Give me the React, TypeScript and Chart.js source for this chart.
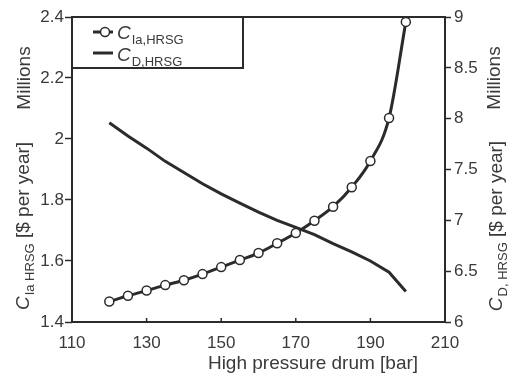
import React, { useEffect, useRef } from "react";
import { Chart, registerables } from "chart.js";

Chart.register(...registerables);

const pressureIa = [120, 125, 130, 135, 140, 145, 150, 155, 160, 165, 170, 175, 180, 185, 190, 195, 199.5];
const costIa = [1.467, 1.486, 1.503, 1.521, 1.537, 1.557, 1.580, 1.603, 1.626, 1.658, 1.692, 1.732, 1.778, 1.842, 1.928, 2.069, 2.384];

const pressureD = [120, 125, 130, 135, 140, 145, 150, 155, 160, 165, 170, 175, 180, 185, 190, 195, 199.5];
const costD = [7.96, 7.83, 7.71, 7.58, 7.47, 7.36, 7.26, 7.17, 7.08, 7.00, 6.93, 6.86, 6.77, 6.69, 6.60, 6.49, 6.30];

const xTicks = [110, 130, 150, 170, 190, 210];
const leftTicks = [1.4, 1.6, 1.8, 2, 2.2, 2.4];
const rightTicks = [6, 6.5, 7, 7.5, 8, 8.5, 9];

const FONT = "'Liberation Sans', Arial, sans-serif";
const INK = "#2b2b2b";
const TXT = "#3a3a3a";

function drawSubText(ctx: CanvasRenderingContext2D, x: number, y: number, main: string, sub: string, rest: string, size: number) {
  ctx.textBaseline = "alphabetic";
  ctx.textAlign = "left";
  ctx.font = `italic ${size}px ${FONT}`;
  ctx.fillText(main, x, y);
  let cx = x + ctx.measureText(main).width + 1;
  const ss = Math.round(size * 0.68);
  ctx.font = `${ss}px ${FONT}`;
  ctx.fillText(sub, cx, y + size * 0.28);
  cx += ctx.measureText(sub).width;
  if (rest) {
    ctx.font = `${size}px ${FONT}`;
    ctx.fillText(rest, cx, y);
    cx += ctx.measureText(rest).width;
  }
  return cx - x;
}

function measureSub(ctx: CanvasRenderingContext2D, main: string, sub: string, rest: string, size: number) {
  ctx.font = `italic ${size}px ${FONT}`;
  let w = ctx.measureText(main).width + 1;
  ctx.font = `${Math.round(size * 0.68)}px ${FONT}`;
  w += ctx.measureText(sub).width;
  ctx.font = `${size}px ${FONT}`;
  w += ctx.measureText(rest).width;
  return w;
}

const decorPlugin = {
  id: "decor",
  afterDraw(chart: any) {
    const ctx: CanvasRenderingContext2D = chart.ctx;
    const a = chart.chartArea;
    ctx.save();
    ctx.strokeStyle = INK;
    ctx.fillStyle = INK;
    ctx.lineWidth = 2;
    ctx.strokeRect(a.left, a.top, a.right - a.left, a.bottom - a.top);

    // inward x ticks
    ctx.lineWidth = 1.5;
    const xs = chart.scales.x;
    xTicks.forEach((v) => {
      const px = xs.getPixelForValue(v);
      ctx.beginPath();
      ctx.moveTo(px, a.bottom);
      ctx.lineTo(px, a.bottom - 4);
      ctx.stroke();
    });

    // legend box
    ctx.lineWidth = 2;
    const lx = a.left, ly = a.top, lw = 171, lh = 51;
    ctx.fillStyle = "#fff";
    ctx.fillRect(lx, ly, lw, lh);
    ctx.strokeRect(lx, ly, lw, lh);
    ctx.fillStyle = INK;
    ctx.lineWidth = 3;
    ctx.beginPath();
    ctx.moveTo(lx + 21, ly + 15);
    ctx.lineTo(lx + 41, ly + 15);
    ctx.stroke();
    ctx.beginPath();
    ctx.arc(lx + 33, ly + 15, 4.5, 0, Math.PI * 2);
    ctx.fillStyle = "#fff";
    ctx.fill();
    ctx.lineWidth = 1.5;
    ctx.stroke();
    ctx.fillStyle = INK;
    ctx.lineWidth = 3;
    ctx.beginPath();
    ctx.moveTo(lx + 21, ly + 36);
    ctx.lineTo(lx + 41, ly + 36);
    ctx.stroke();
    ctx.fillStyle = TXT;
    drawSubText(ctx, lx + 45, ly + 22, "C", "Ia,HRSG", "", 19);
    drawSubText(ctx, lx + 45, ly + 44, "C", "D,HRSG", "", 19);

    // axis titles
    const size = 19;
    ctx.fillStyle = TXT;
    // left
    ctx.save();
    ctx.translate(29, 226);
    ctx.rotate(-Math.PI / 2);
    let w = measureSub(ctx, "C", "Ia HRSG", " [$ per year]", size);
    drawSubText(ctx, -w / 2, 0, "C", "Ia HRSG", " [$ per year]", size);
    ctx.restore();
    ctx.save();
    ctx.translate(30, 78);
    ctx.rotate(-Math.PI / 2);
    ctx.font = `${size}px ${FONT}`;
    ctx.textAlign = "center";
    ctx.fillText("Millions", 0, 0);
    ctx.restore();
    // right
    ctx.save();
    ctx.translate(502, 226);
    ctx.rotate(-Math.PI / 2);
    w = measureSub(ctx, "C", "D, HRSG", " [$ per year]", size);
    drawSubText(ctx, -w / 2, 0, "C", "D, HRSG", " [$ per year]", size);
    ctx.restore();
    ctx.save();
    ctx.translate(500, 78);
    ctx.rotate(-Math.PI / 2);
    ctx.font = `${size}px ${FONT}`;
    ctx.textAlign = "center";
    ctx.fillText("Millions", 0, 0);
    ctx.restore();
    // x title
    ctx.font = `${size}px ${FONT}`;
    ctx.textAlign = "center";
    ctx.textBaseline = "middle";
    ctx.fillText("High pressure drum [bar]", 313, 364);
    ctx.restore();
  },
};

export default function App() {
  const ref = useRef<HTMLCanvasElement | null>(null);
  useEffect(() => {
    document.body.style.margin = "0";
    const canvas = ref.current!;
    const tickFont = { family: FONT, size: 17 };
    const chart = new Chart(canvas, {
      type: "line",
      data: {
        datasets: [
          {
            label: "C Ia,HRSG",
            data: pressureIa.map((x, i) => ({ x, y: costIa[i] })),
            borderColor: INK,
            borderWidth: 3,
            pointRadius: 4.5,
            pointBorderWidth: 1.5,
            pointBackgroundColor: "#fff",
            pointBorderColor: INK,
            yAxisID: "y",
            cubicInterpolationMode: "monotone",
          },
          {
            label: "C D,HRSG",
            data: pressureD.map((x, i) => ({ x, y: costD[i] })),
            borderColor: INK,
            borderWidth: 3,
            pointRadius: 0,
            yAxisID: "y2",
            tension: 0,
          },
        ],
      },
      options: {
        animation: false,
        responsive: false,
        layout: { padding: { top: 17, left: 0, right: 0, bottom: 0 } },
        plugins: { legend: { display: false }, tooltip: { enabled: false } },
        scales: {
          x: {
            type: "linear",
            min: 110,
            max: 210,
            afterBuildTicks: (s: any) => { s.ticks = xTicks.map((v) => ({ value: v })); },
            afterFit: (s: any) => { s.height = 58; },
            grid: { display: false },
            border: { display: false },
            ticks: { font: tickFont, color: TXT, padding: 3, maxRotation: 0 },
          },
          y: {
            type: "linear",
            position: "left",
            min: 1.4,
            max: 2.4,
            afterBuildTicks: (s: any) => { s.ticks = leftTicks.map((v) => ({ value: v })); },
            afterFit: (s: any) => { s.width = 72; },
            grid: { drawOnChartArea: false, tickLength: 7, color: INK, tickWidth: 1.5 },
            border: { display: false },
            ticks: { font: tickFont, color: TXT, padding: 1, callback: (v: any) => String(v) },
          },
          y2: {
            type: "linear",
            position: "right",
            min: 6,
            max: 9,
            afterBuildTicks: (s: any) => { s.ticks = rightTicks.map((v) => ({ value: v })); },
            afterFit: (s: any) => { s.width = 64; },
            grid: { drawOnChartArea: false, tickLength: 6, color: INK, tickWidth: 1.5 },
            border: { display: false },
            ticks: { font: tickFont, color: TXT, padding: 3, callback: (v: any) => String(v) },
          },
        },
      } as any,
      plugins: [decorPlugin],
    });
    return () => chart.destroy();
  }, []);
  return (
    <div style={{ position: "fixed", left: 0, top: 0, width: 509, height: 380, background: "#fff" }}>
      <canvas ref={ref} width={509} height={380} style={{ display: "block" }} />
    </div>
  );
}
